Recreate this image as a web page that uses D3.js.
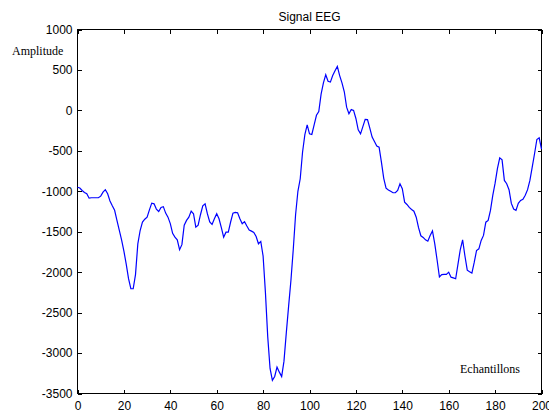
<!DOCTYPE html>
<html>
<head>
<meta charset="utf-8">
<script src="https://cdn.jsdelivr.net/npm/d3@7"></script>
<style>
  body { margin: 0; background: #fff; }
  svg { display: block; }
  .tick text { font-family: "Liberation Sans", Arial, sans-serif; font-size: 12px; fill: #000; }
  .tick line { stroke: #000; }
  .lbl { font-family: "Liberation Serif", "Times New Roman", serif; font-size: 12px; fill: #000; }
</style>
</head>
<body>
<div id="chart"></div>
<script>
// sample index (Echantillons) and EEG amplitude
var samples = d3.range(0, 201);
var amplitude = [
  -950, -960, -990, -1015, -1030, -1085, -1080, -1080, -1080, -1080,
  -1060, -1010, -980, -1030, -1120, -1180, -1235, -1360, -1480, -1600,
  -1740, -1900, -2080, -2205, -2205, -2030, -1650, -1485, -1380, -1345,
  -1320, -1230, -1147, -1155, -1220, -1250, -1200, -1190, -1270, -1320,
  -1400, -1520, -1567, -1600, -1723, -1660, -1420, -1360, -1320, -1245,
  -1278, -1444, -1420, -1290, -1180, -1155, -1280, -1380, -1410, -1340,
  -1278, -1340, -1450, -1567, -1505, -1505, -1380, -1270, -1260, -1265,
  -1340, -1402, -1375, -1430, -1480, -1493, -1510, -1560, -1649, -1620,
  -1800, -2250, -2800, -3190, -3338, -3290, -3174, -3236, -3290, -3100,
  -2750, -2420, -2100, -1720, -1290, -1000, -845, -517, -300, -178,
  -290, -298, -180, -60, -14, 200, 340, 440, 360, 350,
  431, 490, 543, 430, 340, 230, 40, -42, 10, 0,
  -100, -240, -290, -200, -110, -113, -220, -330, -385, -440,
  -455, -640, -840, -962, -985, -1000, -1018, -1018, -990, -907,
  -969, -1135, -1163, -1200, -1225, -1246, -1320, -1450, -1550, -1570,
  -1600, -1617, -1546, -1490, -1650, -1850, -2060, -2030, -2028, -2028,
  -2000, -2062, -2070, -2081, -1900, -1720, -1600, -1800, -1975, -1995,
  -2012, -1880, -1732, -1711, -1608, -1546, -1382, -1360, -1237, -1050,
  -900, -720, -586, -611, -866, -907, -980, -1150, -1220, -1237,
  -1150, -1114, -1100, -1050, -980, -866, -702, -536, -360, -339,
  -480
];
var xTicks = [0, 20, 40, 60, 80, 100, 120, 140, 160, 180, 200];
var yTicks = [-3500, -3000, -2500, -2000, -1500, -1000, -500, 0, 500, 1000];

var width = 549, height = 414;
var margin = {top: 29.5, right: 7.5, bottom: 20.5, left: 77.5};

var svg = d3.select("div#chart")
  .append("svg")
  .attr("width", width)
  .attr("height", height);

svg.append("rect")
  .attr("width", width)
  .attr("height", height)
  .attr("fill", "#fff");

var x = d3.scaleLinear()
  .domain([0, 200])
  .range([margin.left, width - margin.right]);

var y = d3.scaleLinear()
  .domain([-3500, 1000])
  .range([height - margin.bottom, margin.top]);

// plain numbers, ascii minus, no thousands separator
var plain = function(d) { return String(d); };

// matlab style: ticks pointing inwards on all four sides
var xAxis = g => g
  .attr("transform", `translate(0,${height - margin.bottom})`)
  .call(d3.axisBottom(x).tickValues(xTicks).tickFormat(plain).tickSize(-4).tickPadding(8))
  .call(g => g.select(".domain").remove());

var xAxisTop = g => g
  .attr("transform", `translate(0,${margin.top})`)
  .call(d3.axisTop(x).tickValues(xTicks).tickSize(-4).tickFormat(""))
  .call(g => g.select(".domain").remove());

var yAxis = g => g
  .attr("transform", `translate(${margin.left},0)`)
  .call(d3.axisLeft(y).tickValues(yTicks).tickFormat(plain).tickSize(-4).tickPadding(5))
  .call(g => g.select(".domain").remove());

var yAxisRight = g => g
  .attr("transform", `translate(${width - margin.right},0)`)
  .call(d3.axisRight(y).tickValues(yTicks).tickSize(-4).tickFormat(""))
  .call(g => g.select(".domain").remove());

svg.append("g").call(xAxis);
svg.append("g").call(xAxisTop);
svg.append("g").call(yAxis);
svg.append("g").call(yAxisRight);

svg.selectAll(".tick line").attr("shape-rendering", "crispEdges");

svg.append("rect")
  .attr("x", margin.left)
  .attr("y", margin.top)
  .attr("width", width - margin.right - margin.left)
  .attr("height", height - margin.bottom - margin.top)
  .attr("fill", "none")
  .attr("stroke", "#000")
  .attr("shape-rendering", "crispEdges");

var line = d3.line()
  .x(function(d, i) { return x(samples[i]); })
  .y(function(d) { return y(d); });

svg.append("path")
  .datum(amplitude)
  .attr("fill", "none")
  .attr("stroke", "#0000ff")
  .attr("stroke-width", 1.2)
  .attr("d", line);

svg.append("text")
  .attr("x", (margin.left + width - margin.right) / 2)
  .attr("y", 21)
  .attr("text-anchor", "middle")
  .style("font-family", "'Liberation Sans', Arial, sans-serif")
  .style("font-size", "12px")
  .text("Signal EEG");

svg.append("text")
  .classed("lbl", true)
  .attr("x", 12)
  .attr("y", 55)
  .text("Amplitude");

svg.append("text")
  .classed("lbl", true)
  .attr("x", 460)
  .attr("y", 373)
  .text("Echantillons");
</script>
</body>
</html>
